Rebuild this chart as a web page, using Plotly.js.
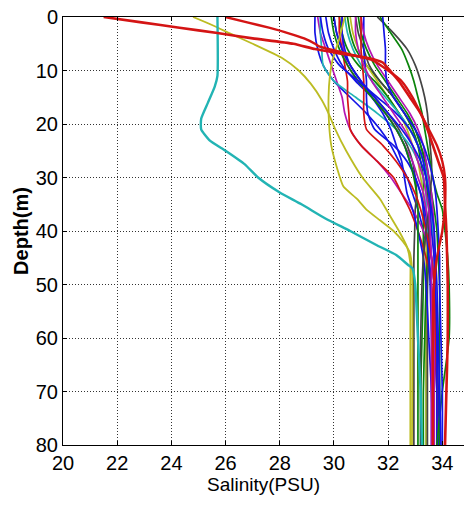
<!DOCTYPE html>
<html>
<head>
<meta charset="utf-8">
<script src="https://cdn.plot.ly/plotly-3.0.1.min.js"></script>
<style>html,body{margin:0;padding:0;background:#fff;}#chart{width:467px;height:505px;}</style>
</head>
<body>
<div id="chart"></div>
<script>
// Common depth levels (m) for the bundle profiles
const depth = [0, 3, 6, 9, 12, 15, 18, 21, 24, 27, 30, 33, 36, 40, 45, 50, 60, 70, 80];

// Bundle salinity profiles (PSU) at the common depths
const blue1 = [29.3, 29.3, 29.4, 29.6, 30.0, 30.6, 31.2, 31.7, 32.1, 32.4, 32.7, 32.9, 33.1, 33.3, 33.5, 33.6, 33.7, 33.8, 33.85];
const blue2 = [29.7, 29.8, 30.0, 30.3, 30.8, 31.4, 31.9, 32.3, 32.6, 32.8, 33.0, 33.2, 33.35, 33.5, 33.6, 33.7, 33.8, 33.85, 33.9];
const blue3 = [31.1, 31.1, 31.1, 31.15, 31.2, 31.2, 31.25, 31.5, 32.2, 32.7, 33.0, 33.2, 33.3, 33.4, 33.5, 33.55, 33.6, 33.6, 33.6];
const blue4 = [31.8, 31.85, 31.9, 31.9, 31.95, 32.2, 32.6, 33.0, 33.3, 33.5, 33.65, 33.75, 33.8, 33.85, 33.9, 33.9, 33.95, 34.0, 34.0];
const blue5 = [30.0, 30.1, 30.3, 30.6, 31.0, 31.4, 31.8, 32.1, 32.3, 32.5, 32.6, 32.7, 32.9, 33.1, 33.3, 33.4, 33.5, 33.6, 33.65];
const blue6 = [29.5, 29.6, 29.8, 30.2, 30.9, 31.6, 32.3, 32.8, 33.1, 33.3, 33.4, 33.5, 33.55, 33.6, 33.7, 33.75, 33.8, 33.8, 33.8];
const blue7 = [30.3, 30.3, 30.4, 30.6, 31.0, 31.5, 32.0, 32.5, 32.9, 33.2, 33.4, 33.5, 33.6, 33.7, 33.75, 33.8, 33.85, 33.9, 33.95];
const green1 = [31.7, 32.1, 32.5, 32.75, 32.95, 33.1, 33.25, 33.35, 33.45, 33.55, 33.65, 33.8, 34.0, 34.1, 34.2, 34.25, 34.25, 34.0, 33.8];
const green2 = [30.5, 30.6, 30.8, 31.2, 31.7, 32.2, 32.6, 32.9, 33.1, 33.2, 33.3, 33.3, 33.3, 33.3, 33.3, 33.3, 33.25, 33.2, 33.2];
const green3 = [30.2, 30.3, 30.5, 30.9, 31.5, 32.0, 32.4, 32.8, 33.1, 33.3, 33.4, 33.45, 33.5, 33.5, 33.45, 33.4, 33.35, 33.3, 33.3];
const green4 = [30.9, 31.0, 31.2, 31.5, 31.9, 32.3, 32.7, 33.0, 33.2, 33.35, 33.5, 33.6, 33.7, 33.8, 33.85, 33.9, 33.9, 33.9, 33.9];
const green5 = [29.9, 30.0, 30.2, 30.5, 30.9, 31.4, 31.9, 32.3, 32.6, 32.8, 32.95, 33.05, 33.1, 33.1, 33.1, 33.1, 33.1, 33.1, 33.1];
const gray1 = [31.6, 32.2, 32.7, 33.0, 33.2, 33.35, 33.45, 33.5, 33.55, 33.6, 33.6, 33.55, 33.5, 33.4, 33.3, 33.25, 33.2, 33.2, 33.2];
const gray2 = [30.0, 30.1, 30.3, 30.6, 31.0, 31.5, 32.0, 32.4, 32.7, 32.9, 33.0, 33.05, 33.0, 32.98, 32.95, 32.95, 32.95, 32.95, 32.95];
const gray3 = [30.8, 30.9, 31.1, 31.3, 31.7, 32.2, 32.6, 33.0, 33.2, 33.4, 33.5, 33.55, 33.55, 33.5, 33.5, 33.45, 33.45, 33.45, 33.45];
const magenta1 = [30.3, 30.3, 30.35, 30.5, 30.9, 31.4, 31.9, 32.3, 32.6, 32.9, 33.1, 33.3, 33.4, 33.5, 33.6, 33.7, 33.75, 33.8, 33.8];
const magenta2 = [29.4, 29.5, 29.7, 29.9, 30.1, 30.3, 30.4, 30.6, 31.0, 31.6, 32.1, 32.5, 32.9, 33.3, 33.6, 33.7, 33.8, 33.8, 33.8];
const magenta3 = [31.0, 31.1, 31.3, 31.6, 32.0, 32.4, 32.8, 33.1, 33.3, 33.4, 33.5, 33.6, 33.65, 33.7, 33.7, 33.7, 33.7, 33.7, 33.7];
const magenta4 = [30.8, 30.8, 30.9, 31.1, 31.4, 31.8, 32.2, 32.6, 32.9, 33.1, 33.3, 33.4, 33.5, 33.55, 33.6, 33.6, 33.6, 33.6, 33.6];
const cyan2 = [29.5, 29.5, 29.55, 29.6, 30.0, 30.8, 31.6, 32.3, 32.8, 33.1, 33.3, 33.4, 33.4, 33.45, 33.45, 33.45, 33.4, 33.4, 33.4];
const cyan3 = [30.4, 30.5, 30.7, 31.0, 31.4, 31.9, 32.4, 32.8, 33.1, 33.3, 33.45, 33.55, 33.6, 33.65, 33.7, 33.7, 33.7, 33.7, 33.7];
const yellow3 = [30.6, 30.7, 30.9, 31.2, 31.6, 32.0, 32.4, 32.7, 32.9, 33.1, 33.2, 33.3, 33.35, 33.4, 33.4, 33.4, 33.4, 33.4, 33.4];
const red3 = [31.0, 31.0, 31.0, 31.05, 31.1, 31.1, 31.1, 31.2, 31.8, 32.3, 32.7, 33.0, 33.2, 33.4, 33.6, 33.7, 33.75, 33.8, 33.8];
const red4 = [30.2, 30.2, 30.3, 30.4, 30.5, 30.5, 30.55, 30.6, 31.0, 31.6, 32.2, 32.5, 32.8, 33.1, 33.4, 33.6, 33.7, 33.7, 33.7];

// Distinct profiles with their own depth levels
const redADepth = [0, 1, 2, 3, 4, 5, 6, 6.8, 7.7, 8.5, 10.2, 12, 15, 18, 21, 24, 27, 30, 35, 40, 50, 60, 70, 80];
const redASal   = [21.5, 22.9, 24.3, 25.7, 27.0, 28.5, 29.3, 30.2, 31.3, 31.8, 32.1, 32.4, 32.8, 33.2, 33.45, 33.65, 33.85, 34.05, 34.1, 34.15, 34.2, 34.2, 34.15, 34.1];
const redBDepth = [0, 1, 2, 3, 4, 5, 5.5, 7, 8, 10, 12, 15, 18, 20, 24, 27, 30, 35, 40, 45, 50, 60, 70, 80];
const redBSal   = [26.0, 26.8, 27.6, 28.3, 28.9, 29.3, 29.45, 30.6, 31.4, 32.0, 32.5, 32.9, 33.2, 33.4, 33.8, 34.0, 34.1, 34.1, 34.0, 33.8, 33.7, 33.65, 33.65, 33.65];
const cyanDepth = [0, 11, 13, 16, 19, 21, 23, 25, 27.5, 30, 32.8, 35, 37.7, 40, 42.7, 44.5, 46.4, 47, 50, 60, 70, 80];
const cyanSal   = [25.7, 25.7, 25.6, 25.35, 25.1, 25.1, 25.4, 26.0, 26.7, 27.2, 28.0, 28.8, 29.7, 30.6, 31.6, 32.3, 32.75, 32.9, 33.0, 33.1, 33.2, 33.25];
const yellowADepth = [0, 1.5, 3.4, 5, 7.7, 10, 12.5, 15.5, 18, 21, 25, 30, 34, 37, 40, 43, 46, 50, 80];
const yellowASal   = [24.8, 25.5, 26.3, 27.0, 28.1, 28.7, 29.15, 29.55, 29.8, 30.05, 30.45, 31.05, 31.7, 32.05, 32.4, 32.7, 32.82, 32.82, 32.82];
const yellowBDepth = [0, 4, 8, 11, 15, 20, 24, 28, 31.7, 34, 36, 38, 40, 42, 44, 47, 80];
const yellowBSal   = [30.4, 30.2, 29.95, 29.85, 29.8, 29.82, 29.9, 30.1, 30.35, 30.85, 31.2, 31.7, 32.2, 32.55, 32.8, 32.88, 32.88];

// Axis ticks
const xTicks = [20, 22, 24, 26, 28, 30, 32, 34];
const yTicks = [0, 10, 20, 30, 40, 50, 60, 70, 80];

const C = {b:'#1414e6', g:'#0a840a', r:'#d41414', c:'#22b4b4', m:'#b416b4', y:'#bcbc22', k:'#444444'};

const bundle = [
  [blue1,'b'],[green2,'g'],[gray2,'k'],[magenta2,'m'],[cyan2,'c'],[yellow3,'y'],
  [blue2,'b'],[green3,'g'],[red4,'r'],[magenta1,'m'],[gray3,'k'],[blue3,'b'],
  [green4,'g'],[cyan3,'c'],[magenta3,'m'],[blue5,'b'],[green5,'g'],[red3,'r'],
  [blue6,'b'],[gray1,'k'],[green1,'g'],[magenta4,'m'],[blue7,'b'],[blue4,'b']
];

const traces = [];
bundle.forEach(([s,c]) => traces.push({
  x: s, y: depth, type:'scatter', mode:'lines',
  line:{color:C[c], width:1.7, shape:'spline', smoothing:0.6}, hoverinfo:'skip'
}));
const special = [
  [yellowASal, yellowADepth, 'y', 1.8],
  [yellowBSal, yellowBDepth, 'y', 1.8],
  [cyanSal, cyanDepth, 'c', 2.4],
  [redBSal, redBDepth, 'r', 2.4],
  [redASal, redADepth, 'r', 2.6]
];
special.forEach(([s,d,c,w]) => traces.push({
  x: s, y: d, type:'scatter', mode:'lines',
  line:{color:C[c], width:w, shape:'spline', smoothing:0.5}, hoverinfo:'skip'
}));

const tickFont = {family:'"Liberation Sans", Arial, sans-serif', size:20, color:'#000'};

const layout = {
  width:467, height:505,
  margin:{l:63, r:3, t:17, b:60},
  paper_bgcolor:'#fff', plot_bgcolor:'#fff',
  showlegend:false,
  xaxis:{
    range:[20, 34.8], tickvals:xTicks, ticktext:xTicks.map(String),
    ticks:'inside', ticklen:4, tickcolor:'#000',
    showline:true, linecolor:'#000', linewidth:1, mirror:'ticks',
    showgrid:true, gridcolor:'#333', gridwidth:1, griddash:'1px,2px',
    zeroline:false, tickfont:tickFont,
    title:{text:'Salinity(PSU)', font:{family:'"Liberation Sans", Arial, sans-serif', size:19, color:'#000'}, standoff:4}
  },
  yaxis:{
    range:[80, 0], tickvals:yTicks, ticktext:yTicks.map(String),
    ticks:'inside', ticklen:4, tickcolor:'#000',
    showline:true, linecolor:'#000', linewidth:1, mirror:false,
    showgrid:true, gridcolor:'#333', gridwidth:1, griddash:'1px,2px',
    zeroline:false, tickfont:tickFont,
    title:{text:'<b>Depth(m)</b>', font:{family:'"Liberation Sans", Arial, sans-serif', size:20, color:'#000'}, standoff:1}
  }
};

Plotly.newPlot('chart', traces, layout, {staticPlot:true, displayModeBar:false});
</script>
</body>
</html>
